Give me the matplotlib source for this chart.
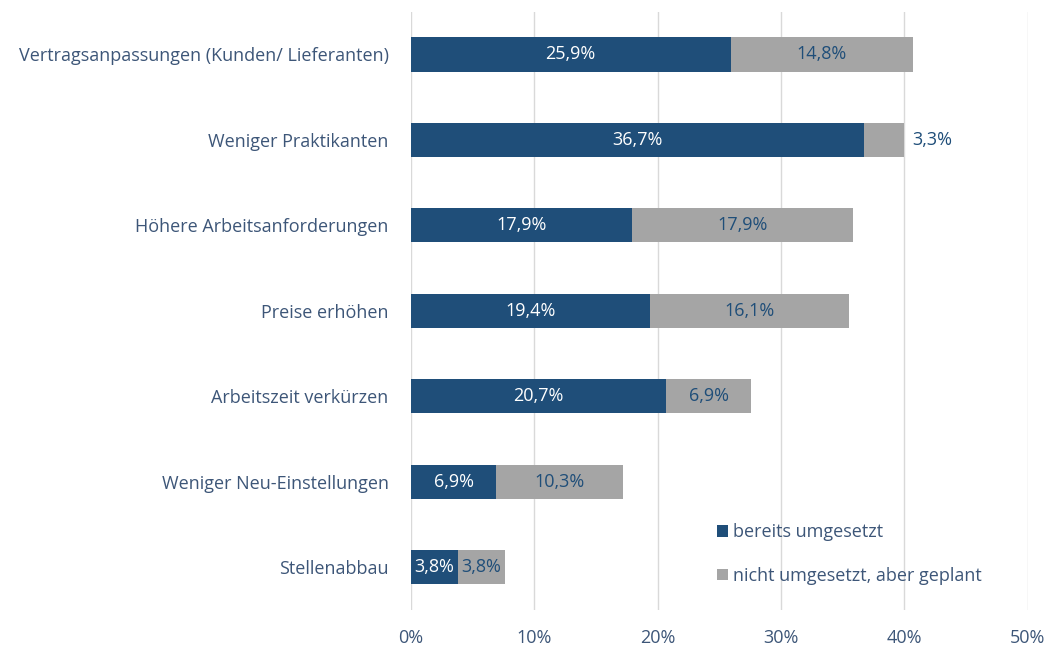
import matplotlib
matplotlib.use("Agg")
import matplotlib.pyplot as plt
import numpy as np

categories = [
    "Vertragsanpassungen (Kunden/ Lieferanten)",
    "Weniger Praktikanten",
    "Höhere Arbeitsanforderungen",
    "Preise erhöhen",
    "Arbeitszeit verkürzen",
    "Weniger Neu-Einstellungen",
    "Stellenabbau",
]
umgesetzt = [25.9, 36.7, 17.9, 19.4, 20.7, 6.9, 3.8]
geplant = [14.8, 3.3, 17.9, 16.1, 6.9, 10.3, 3.8]
series_names = ["bereits umgesetzt", "nicht umgesetzt, aber geplant"]
xticks = [0, 10, 20, 30, 40, 50]

BLUE = "#1F4E79"
GRAY = "#A5A5A5"
TEXT = "#3D5678"

plt.rcParams["font.family"] = ["Open Sans", "DejaVu Sans"]
FS = 13

fig = plt.figure(figsize=(10.51, 6.53), dpi=100)
ax = fig.add_axes([0.391, 0.066, 0.587, 0.916])

y = np.arange(len(categories))
h = 0.4
ax.barh(y, umgesetzt, height=h, color=BLUE, label=series_names[0], zorder=3)
ax.barh(y, geplant, left=umgesetzt, height=h, color=GRAY, label=series_names[1], zorder=3)

fmt = lambda v: f"{v:.1f}%".replace(".", ",")
for i, (a, b) in enumerate(zip(umgesetzt, geplant)):
    ax.text(a / 2, i, fmt(a), ha="center", va="center", color="white", fontsize=FS, zorder=4)
    if b < 5 and a > 10:
        ax.text(a + b + 0.6, i, fmt(b), ha="left", va="center", color=BLUE, fontsize=FS, zorder=4)
    else:
        ax.text(a + b / 2, i, fmt(b), ha="center", va="center", color=BLUE, fontsize=FS, zorder=4)

ax.set_ylim(len(categories) - 0.5, -0.5)
ax.set_xlim(0, 50)
ax.set_yticks(y)
ax.set_yticklabels(categories)
ax.set_xticks(xticks)
ax.set_xticklabels([f"{t}%" for t in xticks])
ax.tick_params(length=0, colors=TEXT, labelsize=FS)
ax.tick_params(axis="y", pad=16)
ax.tick_params(axis="x", pad=14)
ax.grid(axis="x", color="#D9D9D9", linewidth=1, zorder=0)
for s in ax.spines.values():
    s.set_visible(False)

ax.legend(loc="lower left", bbox_to_anchor=(0.47, 0.015), frameon=False, fontsize=FS,
          labelcolor=TEXT, handlelength=0.6, handleheight=0.6, handletextpad=0.3,
          labelspacing=1.4)

fig.savefig("out.png", dpi=100)
